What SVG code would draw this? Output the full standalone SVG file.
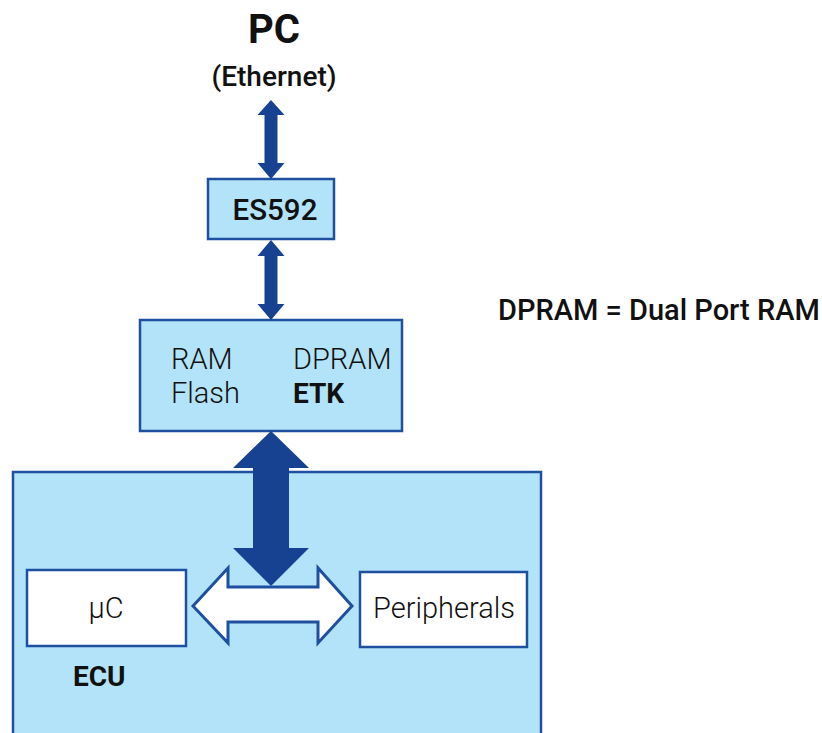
<svg xmlns="http://www.w3.org/2000/svg" width="822" height="733" viewBox="0 0 822 733">
<style>
.box{fill:#b3e3f8;stroke:#1f4f9f;stroke-width:2.5}
.wbox{fill:#ffffff;stroke:#1f4f9f;stroke-width:2.5}
.arrow{fill:#174291}
.warrow{fill:#ffffff;stroke:#1f4f9f;stroke-width:3;stroke-linejoin:miter}
text{font-family:Roboto,"Liberation Sans",sans-serif;fill:#111111}
.light{font-weight:300;font-size:29px}
.bold{font-weight:700}
</style>
<rect width="822" height="733" fill="#ffffff"/>
<g id="pc">
<text x="274" y="43" text-anchor="middle" class="bold" font-size="40">PC</text>
<text x="274" y="86" text-anchor="middle" font-weight="500" font-size="28">(Ethernet)</text>
</g>
<g id="ecu">
<rect class="box" x="13" y="472" width="528" height="270"/>
<text x="73" y="686" class="bold" font-size="28">ECU</text>
</g>
<g id="es592">
<rect class="box" x="208" y="179" width="126" height="60"/>
<text x="275" y="220" text-anchor="middle" font-weight="500" font-size="29.5">ES592</text>
</g>
<g id="etk">
<rect class="box" x="140" y="320" width="262" height="111"/>
<text x="171" y="369" class="light">RAM</text>
<text x="171" y="403" class="light">Flash</text>
<text x="293" y="369" class="light">DPRAM</text>
<text x="293" y="403" class="bold" font-size="28">ETK</text>
</g>
<g id="uc">
<rect class="wbox" x="27" y="570" width="159" height="76"/>
<text x="106" y="618" text-anchor="middle" class="light">µC</text>
</g>
<g id="peripherals">
<rect class="wbox" x="360" y="572" width="167" height="75"/>
<text x="444" y="618" text-anchor="middle" class="light">Peripherals</text>
</g>
<g id="legend">
<text x="498" y="320" font-weight="500" font-size="29">DPRAM = Dual Port RAM</text>
</g>
<g id="connectors">
<polygon class="arrow" points="271,100 284.5,115 277.5,115 277.5,163 284.5,163 271,179 257.5,163 264.5,163 264.5,115 257.5,115"/>
<polygon class="arrow" points="271,240 284.5,256 277.5,256 277.5,304 284.5,304 271,320 257.5,304 264.5,304 264.5,256 257.5,256"/>
<polygon class="warrow" points="193,606 228,568 228,587 318,587 318,568 352,606 318,643 318,622 228,622 228,643"/>
<polygon class="arrow" points="271,431 309,468 289,468 289,548 309,548 271,586 233,548 253,548 253,468 233,468"/>
</g>
</svg>
